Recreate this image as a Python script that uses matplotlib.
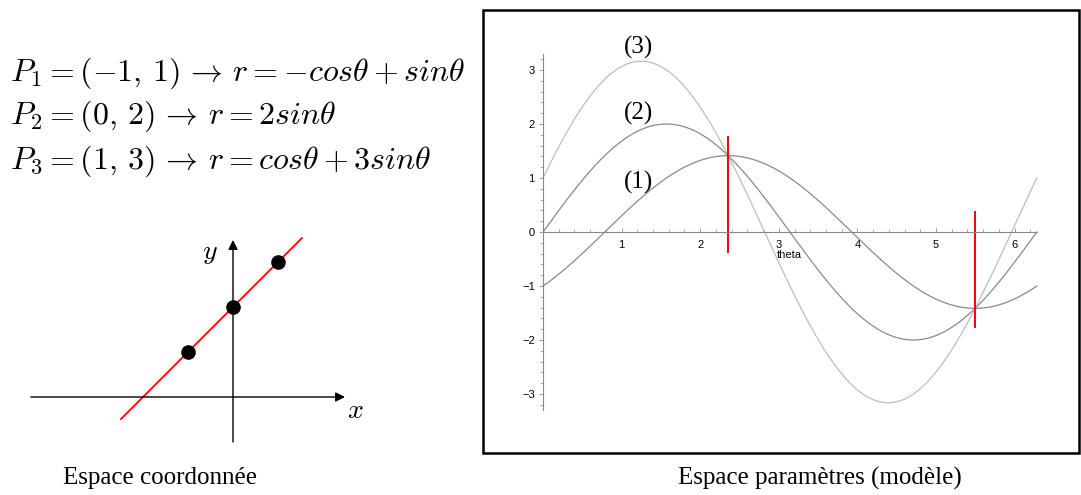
import numpy as np
import matplotlib
matplotlib.use("Agg")
import matplotlib.pyplot as plt
from matplotlib.patches import Rectangle
from matplotlib.ticker import FixedLocator

plt.rcParams["mathtext.fontset"] = "cm"

# three points on the line y = x + 2
pts_x = [-1, 0, 1]
pts_y = [1, 2, 3]
eq_text = [r"$P_1 = (-1,\,1) \,\rightarrow\, r = -cos\theta + sin\theta$",
           r"$P_2 = (0,\,2) \,\rightarrow\, r = 2sin\theta$",
           r"$P_3 = (1,\,3) \,\rightarrow\, r = cos\theta + 3sin\theta$"]
curve_tags = ["(1)", "(2)", "(3)"]
curve_colors = ["#8a8a8a", "#8a8a8a", "#bdbdbd"]

# fitted line (red) in the x-y plane
line_x = [-2.49, 1.53]
line_y = [-0.49, 3.53]

# crossing points of the sinusoids, marked in red
cross_theta = [3 * np.pi / 4, 7 * np.pi / 4]
cross_lo = [-0.37, -1.76]
cross_hi = [1.76, 0.37]

W, H = 1081, 495
fig = plt.figure(figsize=(W / 100, H / 100), dpi=100)


def px_rect(x0, y0, x1, y1):
    # pixel box (top-left origin) -> figure fraction
    return [x0 / W, 1 - y1 / H, (x1 - x0) / W, (y1 - y0) / H]


# equations
for txt, base in zip(eq_text, [81, 124, 169]):
    fig.text(10 / W, 1 - base / H, txt, fontsize=23, va="baseline", ha="left")

# ---- coordinate space ----
axl = fig.add_axes(px_rect(0, 220, 380, 460))
axl.set_xlim(-233 / 45, (380 - 233) / 45)
axl.set_ylim((397 - 460) / 45, (397 - 220) / 45)
axl.axis("off")
arr = dict(arrowstyle="-|>", color="black", lw=1.0, mutation_scale=14,
           shrinkA=0, shrinkB=0)
axl.annotate("", xy=(2.49, 0), xytext=(-4.49, 0), arrowprops=arr)
axl.annotate("", xy=(0, 3.49), xytext=(0, -1.0), arrowprops=arr)
axl.plot(line_x, line_y, color="red", lw=1.3)
axl.plot(pts_x, pts_y, "o", color="black", ms=9.5)
axl.text(-0.51, 3.22, r"$y$", fontsize=20, ha="center", va="center")
axl.text(2.71, -0.29, r"$x$", fontsize=20, ha="center", va="center")

# ---- parameter space ----
fig.patches.append(Rectangle((483 / W, 1 - 453 / H), (1079 - 483) / W, (453 - 10) / H,
                             transform=fig.transFigure, fill=False,
                             edgecolor="black", lw=1.8))
axr = fig.add_axes(px_rect(483, 10, 1079, 452))
axr.patch.set_alpha(0)
axr.set_xlim(-(543 - 483) / 78.6, (1079 - 543) / 78.6)
axr.set_ylim(-(452 - 232) / 54, (232 - 10) / 54)

theta = np.linspace(0, 2 * np.pi, 500)
for x, y, c in zip(pts_x, pts_y, curve_colors):
    axr.plot(theta, x * np.cos(theta) + y * np.sin(theta), color=c, lw=0.9)

for t, lo, hi in zip(cross_theta, cross_lo, cross_hi):
    axr.plot([t, t], [lo, hi], color="red", lw=1.4)

for tag, ty in zip(curve_tags, [0.91, 2.2, 3.41]):
    axr.text(1.22, ty, tag, fontsize=18, family="Liberation Serif",
             ha="center", va="center")

axr.text(2.98, -0.42, "theta", fontsize=8, family="Liberation Sans",
         ha="left", va="center")

for s in ["top", "right"]:
    axr.spines[s].set_visible(False)
for s in ["left", "bottom"]:
    axr.spines[s].set_position(("data", 0))
    axr.spines[s].set_color("#888888")
    axr.spines[s].set_linewidth(0.8)
axr.spines["left"].set_bounds(-3.3, 3.3)
axr.spines["bottom"].set_bounds(0, 2 * np.pi)

axr.set_xticks([1, 2, 3, 4, 5, 6])
axr.set_yticks([-3, -2, -1, 0, 1, 2, 3])
axr.xaxis.set_minor_locator(FixedLocator(np.arange(0.2, 6.21, 0.2)))
axr.yaxis.set_minor_locator(FixedLocator(np.arange(-3.2, 3.21, 0.2)))
axr.tick_params(axis="x", which="major", direction="in", length=3, width=0.6,
                color="#888888", pad=6, labelsize=8)
axr.tick_params(axis="x", which="minor", direction="in", length=2, width=0.5,
                color="#888888")
axr.tick_params(axis="y", which="major", direction="out", length=3, width=0.6,
                color="#888888", pad=3, labelsize=8)
axr.tick_params(axis="y", which="minor", direction="out", length=2, width=0.5,
                color="#888888")
for lab in axr.get_xticklabels() + axr.get_yticklabels():
    lab.set_family("Liberation Sans")

# captions
fig.text(160 / W, 1 - 478 / H, "Espace coordonnée", fontsize=18,
         family="Liberation Serif", ha="center", va="center")
fig.text(820 / W, 1 - 478 / H, "Espace paramètres (modèle)", fontsize=18,
         family="Liberation Serif", ha="center", va="center")

fig.savefig("out.png", dpi=100)
